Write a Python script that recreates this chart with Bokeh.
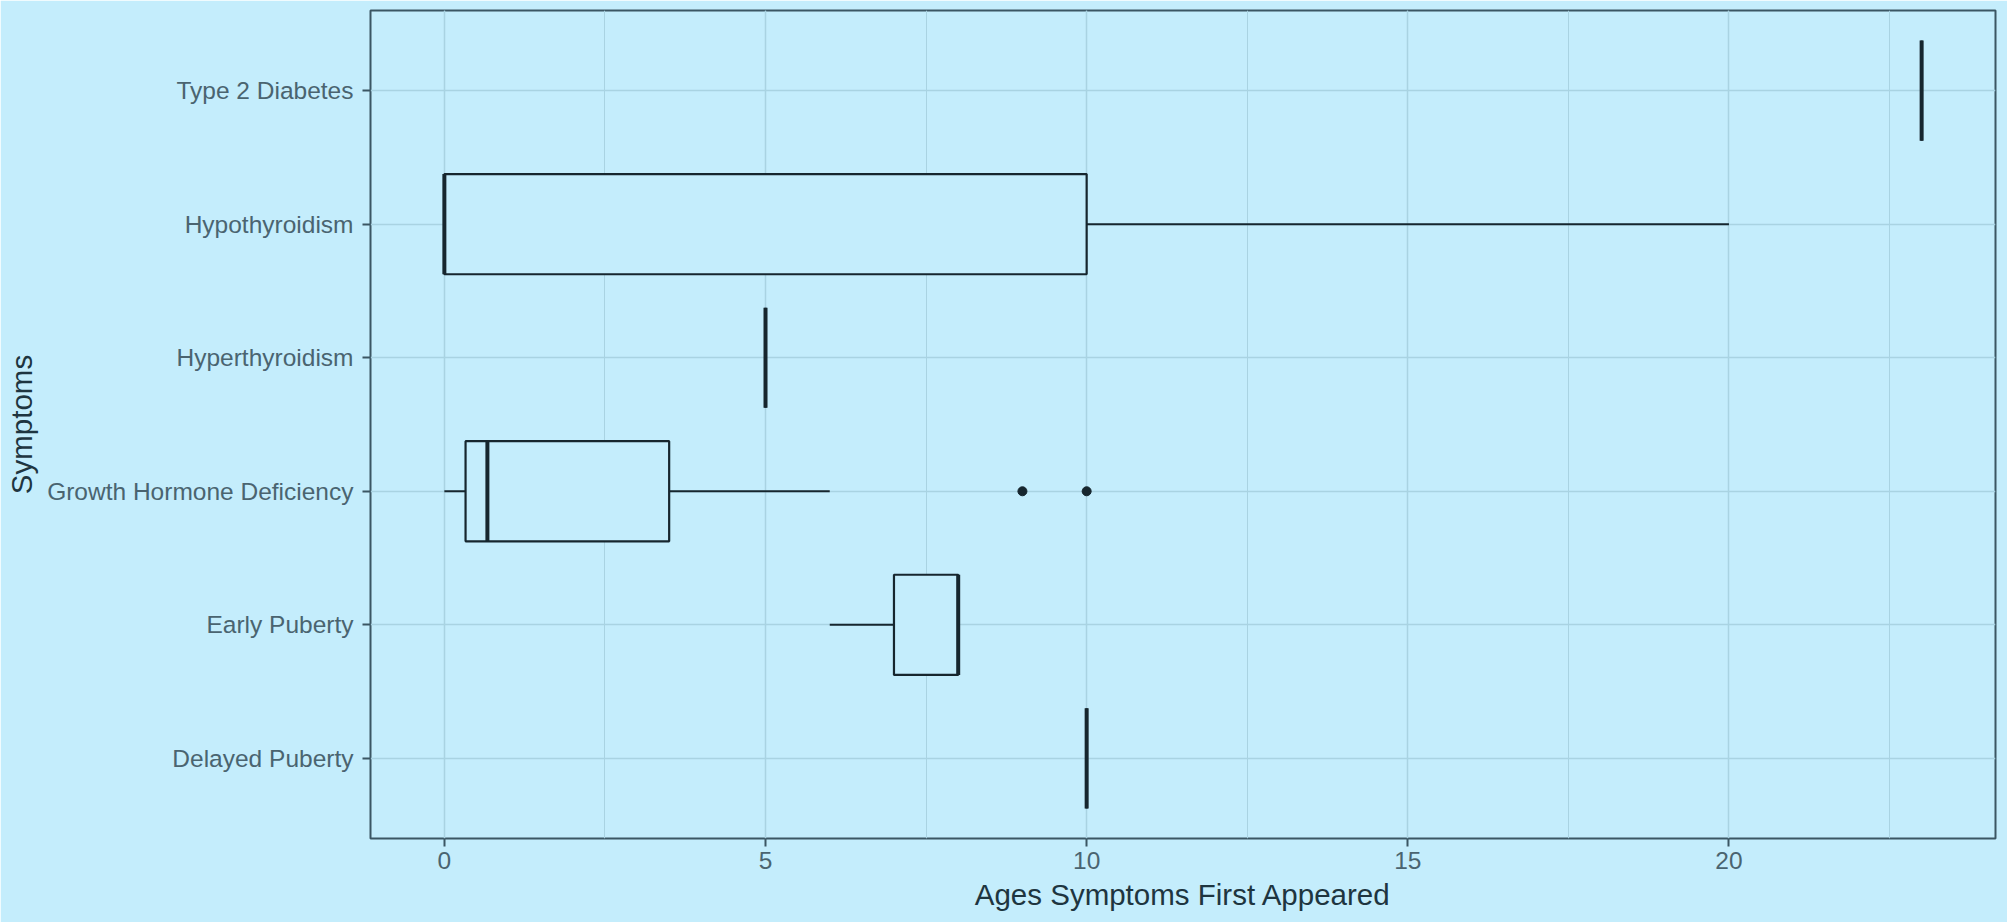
from bokeh.plotting import figure
from bokeh.models import Range1d, FactorRange, SingleIntervalTicker, ColumnDataSource
from bokeh.embed import file_html
from bokeh.resources import INLINE

# ---- data ----
categories = ["Delayed Puberty", "Early Puberty", "Growth Hormone Deficiency",
              "Hyperthyroidism", "Hypothyroidism", "Type 2 Diabetes"]
whisker_low = [10, 6, 0, 5, 0, 23]
q1 = [10, 7, 0.33, 5, 0, 23]
median = [10, 8, 0.67, 5, 0, 23]
q3 = [10, 8, 3.5, 5, 10, 23]
whisker_high = [10, 8, 6, 5, 20, 23]
outlier_cats = ["Growth Hormone Deficiency", "Growth Hormone Deficiency"]
outlier_vals = [9, 10]

x_title = "Ages Symptoms First Appeared"
y_title = "Symptoms"

BG = "#c4edfc"
DARK = "#16262e"
TICK_TXT = "#4a6470"
TITLE_TXT = "#1e3540"
BORDER = "#3b5663"
GRID = "#a9d3e2"
FONT = "Liberation Sans"

src = ColumnDataSource(dict(cat=categories, lo=whisker_low, q1=q1, med=median,
                            q3=q3, hi=whisker_high))

xmin, xmax = min(whisker_low + outlier_vals), max(whisker_high + outlier_vals)
pad = (xmax - xmin) * 0.05

p = figure(width=2007, height=922, output_backend="svg", toolbar_location=None,
           x_range=Range1d(xmin - pad, xmax + pad),
           y_range=FactorRange(factors=categories, range_padding=0.1,
                               range_padding_units="absolute"),
           min_border_left=370, min_border_right=12, min_border_top=10,
           min_border_bottom=84)

p.background_fill_color = BG
p.border_fill_color = BG
p.outline_line_color = BORDER
p.outline_line_width = 2

# whiskers
p.segment(x0="lo", x1="q1", y0="cat", y1="cat", source=src, line_color=DARK, line_width=2)
p.segment(x0="q3", x1="hi", y0="cat", y1="cat", source=src, line_color=DARK, line_width=2)
# boxes
p.hbar(y="cat", left="q1", right="q3", height=0.75, source=src,
       fill_color=BG, line_color=DARK, line_width=2.2)
# medians
p.hbar(y="cat", left="med", right="med", height=0.75, source=src,
       fill_alpha=0, line_color=DARK, line_width=4)
# outliers
p.scatter(x=outlier_vals, y=outlier_cats, size=9, color=DARK)

# axes
p.xaxis.ticker = SingleIntervalTicker(interval=5, num_minor_ticks=2)
p.xaxis.axis_label = x_title
p.yaxis.axis_label = y_title
for ax in (p.xaxis, p.yaxis):
    ax.axis_line_color = None
    ax.major_tick_line_color = BORDER
    ax.major_tick_line_width = 2
    ax.major_tick_out = 8
    ax.major_tick_in = 0
    ax.minor_tick_line_color = None
    ax.major_label_text_font = FONT
    ax.major_label_text_font_size = "24.5px"
    ax.major_label_text_color = TICK_TXT
    ax.axis_label_text_font = FONT
    ax.axis_label_text_font_size = "29.5px"
    ax.axis_label_text_font_style = "normal"
    ax.axis_label_text_color = TITLE_TXT
p.xaxis.major_label_standoff = 5
p.xaxis.axis_label_standoff = 6
p.yaxis.major_label_standoff = 9
p.yaxis.axis_label_standoff = 6

p.xgrid.grid_line_color = GRID
p.xgrid.grid_line_width = 1.5
p.xgrid.minor_grid_line_color = GRID
p.xgrid.minor_grid_line_width = 1
p.ygrid.grid_line_color = GRID
p.ygrid.grid_line_width = 1.5

open("out.html", "w").write(file_html(p, INLINE))
